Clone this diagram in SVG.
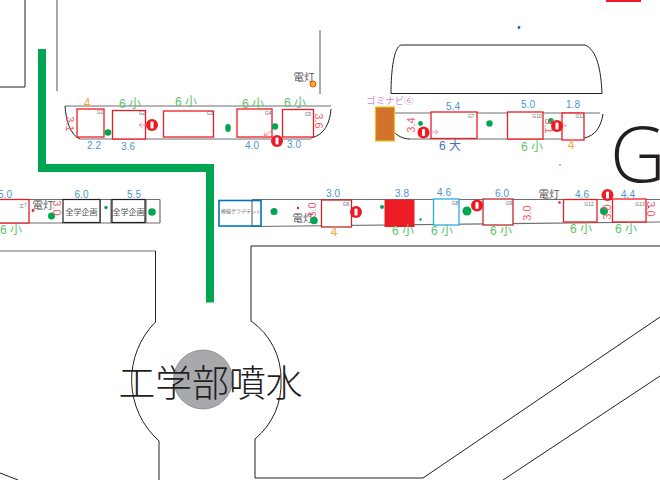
<svg xmlns="http://www.w3.org/2000/svg" width="660" height="480" viewBox="0 0 660 480">
<style>
text{font-family:"Liberation Sans","Noto Sans CJK JP",sans-serif;text-anchor:middle}
.ln{fill:none;stroke:#231f20;stroke-width:1}
.gl{fill:none;stroke:#6d6e71;stroke-width:1.2}
.r{fill:#fff;stroke:#ed1c24;stroke-width:1.3}
.bk{fill:#fff;stroke:#231f20;stroke-width:1.2}
.dot{fill:#00a651}
.b{fill:#4a94d0;font-size:10px}
.s{fill:#5cc46a;font-size:12px}
.o{fill:#f7a541;font-size:12px}
.p{fill:#f0606a;font-size:11px}
.g{fill:#6d6e71;font-size:5px}
.d{fill:#555;font-size:10.500px}
.k{fill:#555;font-size:8px}
.a{fill:#ed1c24}
.w{fill:#fff}
.ar{fill:none;stroke:#f4808a;stroke-width:.8}
</style>
<defs>
<g id="alert"><circle r="6" class="a"/><rect x="-1.5" y="-3.6" width="3" height="7.2" rx="1.2" class="w"/></g>
</defs>

<g id="roads">
<path class="ln" d="M25 0V87H0"/>
<path class="gl" d="M57 0V91"/>
<path class="gl" d="M320 30V94"/>
<path class="gl" stroke-width="1.6" d="M0 251H155.5"/>
<path class="ln" d="M155.5 251V322A82 82 0 0 0 159 441V480"/>
<path class="ln" d="M660 246H251V321A70 70 0 0 1 281 380A72 72 0 0 1 255 439V478H423L660 317"/>
<path class="ln" d="M503 480L660 376"/>
<path class="ln" d="M0 473L18 480"/>
<path class="ln" stroke-width="1.2" d="M391 93.5H602C601 70 597 50 585 45H401C394 47 391 70 391 93.5Z"/>
<rect x="606" y="0" width="35" height="2" fill="#ed1c24"/>
<circle cx="519" cy="27.5" r="1.4" fill="#0072bc"/>
<circle cx="560" cy="165" r=".8" fill="#ed1c24"/>
</g>

<g id="connectors">
<path d="M42 49V168H210V302.5" fill="none" stroke="#00a651" stroke-width="8"/>
</g>

<g id="band-left-top">
<path class="gl" d="M65 106H331"/>
<path class="gl" d="M80 139H311"/>
<path class="ln" d="M65 106C66 120 70 135 80 139"/>
<path class="ln" d="M331 109C330 122 325 135 311 138"/>
</g>
<g id="G1"><rect class="r" x="77" y="109" width="27" height="28"/><text class="g" x="100" y="114">G1</text><text class="p" transform="translate(66 124) rotate(90)">3.1</text><text class="o" x="87" y="107">4</text><text class="b" x="94" y="149">2.2</text></g>
<g id="G2"><rect class="r" x="112.500" y="110.500" width="33" height="28.500"/><text class="g" x="142" y="115">G2</text><text class="s" x="130" y="108">6 小</text><text class="b" x="128" y="150">3.6</text></g>
<g id="G3"><rect class="r" x="163.500" y="111" width="50" height="26"/><text class="g" x="210" y="115">G3</text><text class="s" x="186" y="106">6 小</text></g>
<g id="G4"><rect class="r" x="237" y="109" width="35" height="28"/><text class="g" x="268" y="115">G4</text><text class="s" x="253" y="108">6 小</text><text class="b" x="252" y="149">4.0</text></g>
<g id="G5"><rect class="r" x="282.500" y="109.500" width="31" height="27.500"/><text class="g" x="308" y="116">G5</text><text class="s" x="295" y="107">6 小</text><text class="b" x="294" y="148">3.0</text><text class="p" transform="translate(314.500 121) rotate(90)">3.6</text></g>
<g id="band-left-top-marks">
<circle class="dot" cx="108" cy="132.500" r="3.300"/>
<ellipse class="dot" cx="228" cy="128" rx="2.800" ry="4"/>
<circle class="dot" cx="275" cy="126.500" r="3.200"/>
<path class="ar" d="M146 125H139M142 122.500L139 125L142 127.500"/>
<path class="ar" d="M271 131L264 136M268 135L264 136L265 132"/>
<use href="#alert" x="152" y="125"/>
<use href="#alert" x="277" y="141"/>
</g>
<g id="lamp-top"><text class="d" x="304" y="81">電灯</text><circle cx="313" cy="84" r="3" fill="#fdb913" stroke="#ed1c24" stroke-width=".8"/></g>

<g id="band-right-top">
<path class="gl" d="M394 113H600"/>
<path class="gl" d="M410 139H584"/>
<path class="ln" d="M394 132C398 136 403 139 410 139"/>
<path class="ln" d="M603 114C601 127 595 136 584 138"/>
</g>
<g id="gomi"><rect x="375.500" y="107" width="19" height="34" fill="#d2732b" stroke="#e6c32a" stroke-width="1.200"/><text x="390" y="104" fill="#d08ccb" font-size="9.500">ゴミナビ⑥</text></g>
<g id="G7"><rect class="r" x="431" y="112" width="46" height="26.500"/><text class="g" x="471" y="118">G7</text><text class="b" x="453" y="110">5.4</text><text x="450" y="150" fill="#4a72b8" font-size="12">6 大</text></g>
<g id="G10"><rect class="r" x="507.500" y="112" width="35.500" height="27"/><text class="g" x="537" y="118">G10</text><text class="b" x="528" y="108">5.0</text><text class="s" x="532" y="151">6 小</text></g>
<g id="G11"><rect class="r" x="562" y="113" width="22" height="27"/><text class="g" x="580" y="118">G11</text><text class="b" x="573" y="108">1.8</text><text class="o" x="571" y="149">4</text></g>
<g id="band-right-top-marks">
<circle class="dot" cx="420.500" cy="123.500" r="2.400"/>
<circle class="dot" cx="489.500" cy="123.500" r="3.200"/>
<circle class="dot" cx="551" cy="121" r="3"/>
<text class="p" transform="translate(415 125) rotate(-90)">3.4</text>
<text class="p" transform="translate(545 126) rotate(90)" font-size="10">3.1</text>
<path class="ar" d="M430 132H438M435 129.500L438 132L435 134.500"/>
<path class="ar" d="M563 126H566.500L564 124"/>
<use href="#alert" x="423.500" y="132.500"/>
<use href="#alert" x="557" y="126"/>
</g>
<text id="big-g" x="610" y="182" fill="#231f20" font-size="77" style="text-anchor:start;font-family:'Open Sans','Liberation Sans',sans-serif;font-weight:300">G</text>

<g id="band-left-mid">
<path class="gl" d="M0 199.500H160M0 223H160M100 199.500V223M111 199.500V223M146 199.500V223M160 199.500V223"/>
</g>
<g id="E7"><rect class="r" x="-5" y="199.500" width="34" height="23.500"/><text class="g" x="23" y="207">エ7</text><text class="b" x="5" y="198">5.0</text><text class="s" x="11" y="234">6 小</text></g>
<g id="lamp-left"><text class="d" x="43" y="209">電灯</text><circle cx="33" cy="210.500" r="1.400" fill="#ed1c24"/><circle class="dot" cx="51.500" cy="216" r="3.500"/><text class="p" transform="translate(53 208) rotate(90)" font-size="10">3.0</text></g>
<g id="kikaku-1"><rect class="bk" x="63" y="199.500" width="37" height="23"/><text class="k" x="81.500" y="215">全学企画</text><text class="b" x="81.500" y="198">6.0</text></g>
<g id="kikaku-2"><rect class="bk" x="112" y="199.500" width="33" height="23"/><text class="k" x="128.500" y="215">全学企画</text><text class="b" x="134" y="198">5.5</text></g>
<circle class="dot" cx="106" cy="207.500" r="1.700"/>
<circle class="dot" cx="152" cy="212" r="3.800"/>

<g id="band-right-mid">
<path class="gl" d="M252 199.500H660M252 226.500L660 222M252 199.500V226.500"/>
</g>
<g id="booth-blue"><rect x="219" y="200.500" width="42" height="25.500" fill="none" stroke="#0072bc" stroke-width="1.600"/><text class="g" x="241" y="213" font-size="5">模擬グラデテント</text></g>
<g id="lamp-mid"><text class="d" x="303" y="222">電灯</text><circle cx="298" cy="208" r="1.200" fill="#ed1c24"/><circle class="dot" cx="274" cy="211.500" r="3.500"/><circle class="dot" cx="314" cy="220.500" r="3.800"/><text class="p" transform="translate(316 210) rotate(-90)">3.0</text></g>
<g id="G6"><rect x="321.500" y="200" width="30" height="27" fill="#fff" stroke="#c1272d" stroke-width="1.300"/><text class="g" x="346" y="206">G6</text><text class="b" x="333" y="197">3.0</text><text class="o" x="334" y="236">4</text></g>
<g id="G-red"><rect x="384.500" y="199.500" width="30" height="27.500" fill="#ed1c24"/><text class="b" x="402" y="197">3.8</text><text class="s" x="403" y="235">6 小</text></g>
<g id="G8"><rect x="433.500" y="199" width="25.500" height="26" fill="#fff" stroke="#29abe2" stroke-width="1.300"/><text class="g" x="455" y="205">G8</text><text class="b" x="444" y="196">4.6</text><text class="s" x="442" y="235">6 小</text></g>
<g id="G9"><rect x="483" y="199" width="30" height="26" fill="#fff" stroke="#c1272d" stroke-width="1.300"/><text class="g" x="509" y="205">G9</text><text class="b" x="502" y="197">6.0</text><text class="s" x="501" y="235">6 小</text></g>
<g id="G12"><rect class="r" x="563.500" y="199.500" width="33.500" height="22.500"/><text class="g" x="589" y="206">G12</text><text class="b" x="582" y="198">4.6</text><text class="s" x="581" y="233">6 小</text></g>
<g id="G13"><rect class="r" x="612.500" y="199" width="33.500" height="23"/><text class="g" x="640" y="206">G13</text><text class="b" x="628" y="198">4.4</text><text class="s" x="626" y="233">6 小</text></g>
<g id="band-right-mid-marks">
<circle class="dot" cx="382" cy="207" r="2"/>
<circle class="dot" cx="420.500" cy="219.500" r="1.200"/>
<circle class="dot" cx="467" cy="211" r="4.500"/>
<circle class="dot" cx="604" cy="211" r="4"/>
<circle cx="648.500" cy="207" r="1" fill="#0072bc"/>
<text class="p" transform="translate(531 213) rotate(-90)" font-size="10">3.0</text>
<text class="p" transform="translate(611 212) rotate(-90)" font-size="10">3.0</text>
<text class="p" transform="translate(647 209) rotate(90)" font-size="10">3.0</text>
<text class="d" x="549" y="198" font-size="10">電灯</text>
<circle cx="559.500" cy="202.500" r="1.200" fill="#ed1c24"/>
<use href="#alert" x="356" y="212"/>
<use href="#alert" x="477" y="205.500"/>
<use href="#alert" x="607.500" y="195"/>
</g>

<g id="fountain">
<circle cx="203" cy="379.500" r="29.500" fill="#a7a9ac" stroke="#6d6e71" stroke-width=".6"/>
<text x="210.500" y="397" fill="#231f20" font-size="37" textLength="184" lengthAdjust="spacingAndGlyphs" style="font-family:'Noto Sans CJK JP',sans-serif;font-weight:300">工学部噴水</text>
</g>
</svg>
